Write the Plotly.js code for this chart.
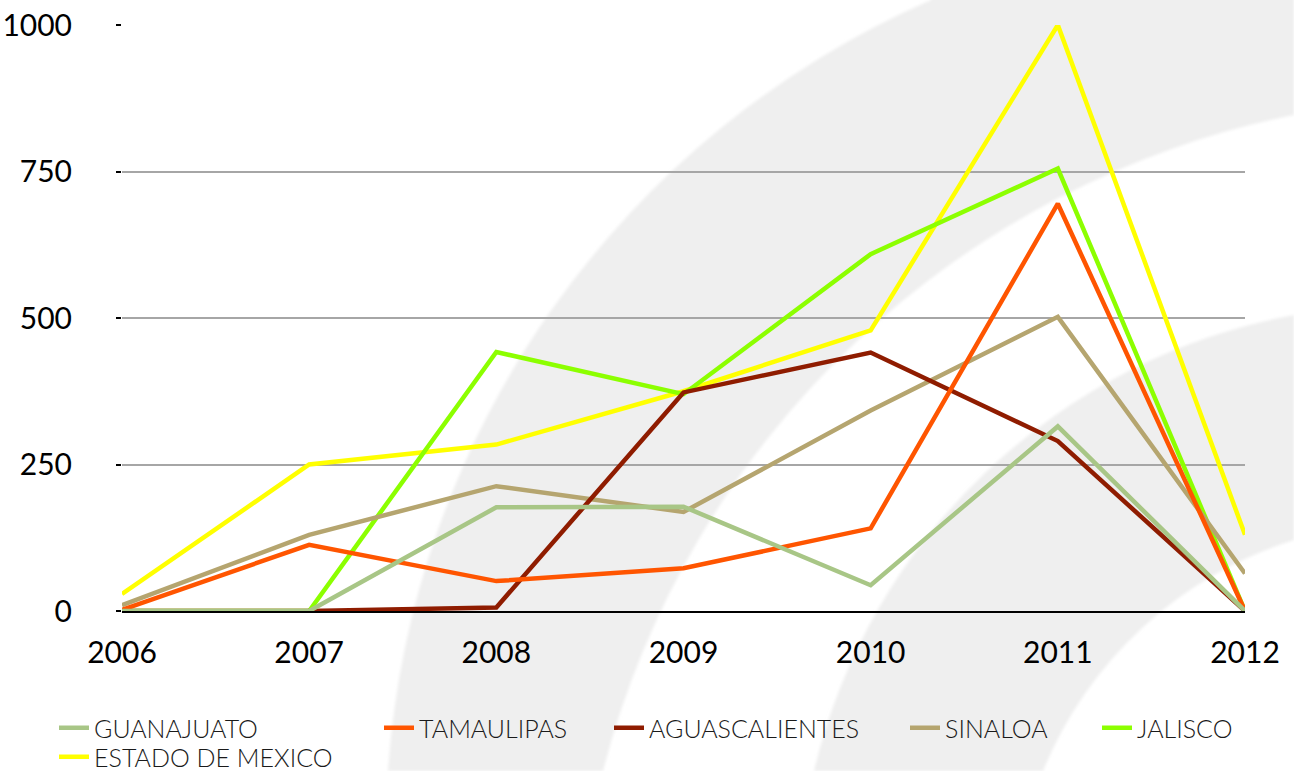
<!DOCTYPE html>
<html>
<head>
<meta charset="utf-8">
<script src="https://cdn.plot.ly/plotly-3.0.1.min.js"></script>
<style>
  html, body { margin: 0; padding: 0; background: #ffffff; }
  #wrap { position: relative; width: 1294px; height: 771px; overflow: hidden; }
  #bg { position: absolute; left: 0; top: 0; z-index: 0; }
  #chart { position: absolute; left: 0; top: 0; width: 1294px; height: 771px; z-index: 1; }
</style>
</head>
<body>
<div id="wrap">
  <svg id="bg" width="1294" height="771"></svg>
  <div id="chart"></div>
</div>
<script>
// ---- data ----
const years = [2006, 2007, 2008, 2009, 2010, 2011, 2012];
const guanajuato     = [0, 0, 177, 178, 44, 315, 0];
const tamaulipas     = [2, 113, 51, 73, 141, 695, 0];
const aguascalientes = [0, 0, 6, 373, 441, 290, 0];
const sinaloa        = [10, 130, 213, 169, 342, 502, 64];
const jalisco        = [0, 0, 442, 370, 609, 755, 0];
const estadoMexico   = [29, 250, 284, 375, 479, 1000, 130];
const yTicks = [0, 250, 500, 750, 1000];

// ---- decorative background watermark (arcs) ----
const pathA = 'M931,0 A909,909 0 0 0 388,771 L603,771 A897,897 0 0 1 1294,115 L1294,-5 L931,-5 Z';
const pathB = 'M814,771 A606,606 0 0 1 1294,315 L1294,540 A400,400 0 0 0 1043,771 Z';
document.getElementById('bg').innerHTML =
  '<defs><filter id="f"><feGaussianBlur stdDeviation="1.5"/></filter></defs>' +
  '<path d="' + pathA + '" fill="#efefef" filter="url(#f)"/>' +
  '<path d="' + pathB + '" fill="#efefef" filter="url(#f)"/>';

// ---- chart ----
const FONT = 'Lato, "Open Sans", sans-serif';
function tr(name, y, color, legend) {
  return {
    type: 'scatter', mode: 'lines', x: years, y: y, name: name,
    line: { color: color, width: 4.5 },
    legend: legend, hoverinfo: 'skip'
  };
}
const data = [
  tr('ESTADO DE MEXICO', estadoMexico, '#ffff00', 'legend6'),
  tr('JALISCO', jalisco, '#8cff00', 'legend5'),
  tr('SINALOA', sinaloa, '#b5a56f', 'legend4'),
  tr('AGUASCALIENTES', aguascalientes, '#8f1c00', 'legend3'),
  tr('TAMAULIPAS', tamaulipas, '#ff5500', 'legend2'),
  tr('GUANAJUATO', guanajuato, '#a8c686', 'legend')
];

const L = 122, R = 49, T = 25, B = 160;
const pw = 1294 - L - R, ph = 771 - T - B;
function px2x(px) { return (px - L) / pw; }
function py2y(py) { return (771 - B - py) / ph; }
const legFont = { family: FONT, size: 25, color: '#1a1a1a', weight: 300 };
function leg(pxLeft, pyMid) {
  return {
    x: px2x(pxLeft), xanchor: 'left', y: py2y(pyMid), yanchor: 'middle',
    orientation: 'v', bgcolor: 'rgba(0,0,0,0)', font: legFont,
    itemwidth: 30, borderwidth: 0
  };
}

const layout = {
  width: 1294, height: 771,
  margin: { l: L, r: R, t: T, b: B, autoexpand: false },
  paper_bgcolor: 'rgba(0,0,0,0)', plot_bgcolor: 'rgba(0,0,0,0)',
  font: { family: FONT, color: '#000000' },
  showlegend: true,
  xaxis: {
    range: [2006, 2012], tickvals: years, ticktext: years.map(String),
    showgrid: false, zeroline: false, showline: true, linecolor: '#000000', linewidth: 2,
    ticks: '', tickfont: { family: FONT, size: 30, color: '#000000' },
    ticklabelstandoff: 14, fixedrange: true
  },
  yaxis: {
    range: [0, 1000], tickvals: yTicks, ticktext: yTicks.map(String),
    showgrid: true, gridcolor: '#a6a6a6', gridwidth: 2, zeroline: false, showline: false,
    ticks: 'outside', ticklen: 5, tickwidth: 2, tickcolor: '#000000',
    tickfont: { family: FONT, size: 30, color: '#000000' },
    ticklabelstandoff: 38, fixedrange: true
  },
  legend:  leg(54, 728),
  legend2: leg(379, 728),
  legend3: leg(609, 728),
  legend4: leg(905, 728),
  legend5: leg(1097, 728),
  legend6: leg(54, 757)
};

Plotly.newPlot('chart', data, layout, { displayModeBar: false, staticPlot: true });
</script>
</body>
</html>
